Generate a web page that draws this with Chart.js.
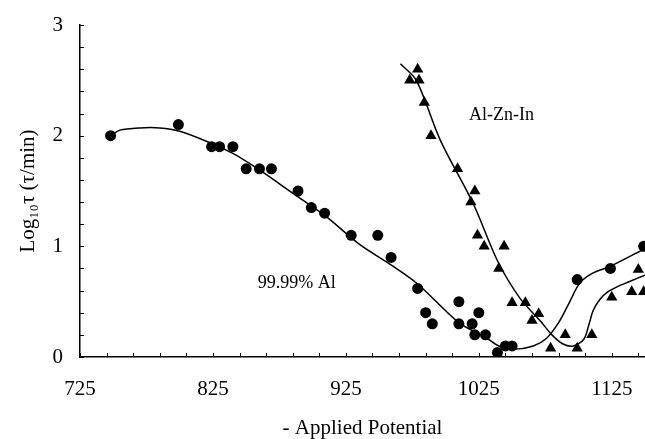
<!DOCTYPE html>
<html>
<head>
<meta charset="utf-8">
<script src="https://cdn.jsdelivr.net/npm/chart.js@4.4.0/dist/chart.umd.min.js"></script>
<style>
  html, body { margin: 0; padding: 0; background: #fff; }
  #wrap { width: 645px; height: 439px; }
</style>
</head>
<body>
<div id="wrap"><canvas id="chart"></canvas></div>
<script>
// 99.99% Al - measured points
const alX = [748, 799, 824, 830, 840, 850, 860, 869, 889, 899, 909, 929, 949, 959, 979, 985, 990, 1010, 1010, 1020, 1025, 1022, 1030, 1039, 1045, 1050, 1099, 1124, 1149];
const alY = [2.0, 2.1, 1.9, 1.9, 1.9, 1.7, 1.7, 1.7, 1.5, 1.35, 1.3, 1.1, 1.1, 0.9, 0.62, 0.4, 0.3, 0.5, 0.3, 0.3, 0.4, 0.2, 0.2, 0.04, 0.1, 0.1, 0.7, 0.8, 1.0];

// Al-Zn-In - measured points
const znX = [979, 973, 980, 984, 989, 1009, 1022, 1019, 1024, 1029, 1044, 1040, 1050, 1060, 1070, 1065, 1079, 1090, 1099, 1110, 1125, 1145, 1140, 1149];
const znY = [2.6, 2.5, 2.5, 2.3, 2.0, 1.7, 1.5, 1.4, 1.1, 1.0, 1.0, 0.8, 0.49, 0.49, 0.39, 0.33, 0.08, 0.2, 0.08, 0.2, 0.54, 0.79, 0.59, 0.59];

// fitted curves
const alFitX = [748, 755, 770, 785, 800, 820, 840, 860, 885, 910, 935, 958, 979, 1010, 1031, 1040, 1051, 1066, 1076, 1085, 1093, 1101, 1111, 1124, 1150];
const alFitY = [2.0, 2.05, 2.07, 2.07, 2.04, 1.95, 1.84, 1.69, 1.48, 1.27, 1.02, 0.84, 0.66, 0.31, 0.17, 0.1, 0.07, 0.1, 0.17, 0.31, 0.49, 0.67, 0.76, 0.82, 0.98];
const znFitX = [966, 978, 996, 1021, 1039, 1056, 1071, 1080, 1088, 1096, 1104, 1108, 1111, 1116, 1121, 1130, 1138, 1150];
const znFitY = [2.65, 2.5, 1.96, 1.38, 0.87, 0.53, 0.33, 0.2, 0.12, 0.1, 0.16, 0.3, 0.42, 0.52, 0.58, 0.64, 0.68, 0.74];

// axes
const xMajor = [725, 825, 925, 1025, 1125];
const yMajor = [0, 1, 2, 3];
const xMinorStep = 20;
const yMinorStep = 0.2;

const toPts = (xs, ys) => xs.map((x, i) => ({ x: x, y: ys[i] }));
const serif = "'Liberation Serif', 'Times New Roman', serif";

// tick lists (minor + major), labels only on majors
const xTickVals = [];
for (let v = 725; v <= 1150; v += xMinorStep) xTickVals.push(v);
const yTickVals = [];
for (let i = 0; i <= 15; i++) yTickVals.push(Math.round(i * yMinorStep * 10) / 10);

// inward tick marks + text labels
const decor = {
    id: 'decor',
    afterDraw(chart) {
        const ctx = chart.ctx;
        const xs = chart.scales.x, ys = chart.scales.y;
        const area = chart.chartArea;
        ctx.save();
        ctx.strokeStyle = '#000';
        ctx.lineWidth = 1;
        xTickVals.forEach(v => {
            const px = Math.round(xs.getPixelForValue(v)) + 0.5;
            ctx.beginPath();
            ctx.moveTo(px, area.bottom);
            ctx.lineTo(px, area.bottom - 4);
            ctx.stroke();
        });
        yTickVals.forEach(v => {
            const py = Math.round(ys.getPixelForValue(v)) + 0.5;
            ctx.beginPath();
            ctx.moveTo(area.left, py);
            ctx.lineTo(area.left + 4, py);
            ctx.stroke();
        });
        ctx.fillStyle = '#000';
        ctx.font = '18px ' + serif;
        ctx.textAlign = 'center';
        ctx.textBaseline = 'middle';
        ctx.fillText('99.99% Al', xs.getPixelForValue(888), ys.getPixelForValue(0.67));
        ctx.fillText('Al-Zn-In', xs.getPixelForValue(1042), ys.getPixelForValue(2.18));
        ctx.restore();
    }
};

const ctx = document.getElementById('chart').getContext('2d');
new Chart(ctx, {
    type: 'scatter',
    data: {
        datasets: [
            {
                label: '99.99% Al',
                data: toPts(alX, alY),
                pointStyle: 'circle',
                pointRadius: 5.5,
                backgroundColor: '#000',
                borderColor: '#000',
                borderWidth: 0
            },
            {
                label: 'Al-Zn-In',
                data: toPts(znX, znY),
                pointStyle: 'triangle',
                pointRadius: 6.5,
                backgroundColor: '#000',
                borderColor: '#000',
                borderWidth: 0
            },
            {
                label: 'fit Al',
                data: toPts(alFitX, alFitY),
                showLine: true,
                pointRadius: 0,
                borderColor: '#000',
                borderWidth: 1.5,
                tension: 0.3
            },
            {
                label: 'fit Zn',
                data: toPts(znFitX, znFitY),
                showLine: true,
                pointRadius: 0,
                borderColor: '#000',
                borderWidth: 1.5,
                tension: 0.3
            }
        ]
    },
    options: {
        responsive: true,
        maintainAspectRatio: false,
        animation: false,
        layout: { autoPadding: false, padding: { top: 25, left: 8, right: 0, bottom: 0 } },
        plugins: {
            legend: { display: false },
            tooltip: { enabled: false }
        },
        scales: {
            x: {
                type: 'linear',
                min: 725,
                max: 1150,
                afterBuildTicks: scale => { scale.ticks = xTickVals.map(v => ({ value: v })); },
                afterFit: scale => { scale.height = 82; scale.paddingLeft = 0; scale.paddingRight = 0; },
                grid: { display: true, drawOnChartArea: false, drawTicks: false },
                border: { display: true, color: '#000', width: 1.5 },
                ticks: {
                    padding: 20,
                    color: '#000',
                    maxRotation: 0,
                    autoSkip: false,
                    font: { family: serif, size: 21 },
                    callback: v => xMajor.includes(v) ? String(v) : ''
                },
                title: {
                    display: true,
                    text: '- Applied Potential',
                    color: '#000',
                    font: { family: serif, size: 21 },
                    padding: { top: 0, bottom: -2 }
                }
            },
            y: {
                min: 0,
                max: 3,
                afterBuildTicks: scale => { scale.ticks = yTickVals.map(v => ({ value: v })); },
                afterFit: scale => { scale.width = 72; scale.paddingTop = 0; scale.paddingBottom = 0; },
                grid: { display: true, drawOnChartArea: false, drawTicks: false },
                border: { display: true, color: '#000', width: 1.5 },
                ticks: {
                    padding: 17,
                    color: '#000',
                    autoSkip: false,
                    font: { family: serif, size: 21 },
                    callback: v => yMajor.includes(v) ? String(v) : ''
                },
                title: {
                    display: true,
                    text: 'Log₁₀τ (τ/min)',
                    color: '#000',
                    font: { family: serif, size: 21 },
                    padding: { top: 8, bottom: 0 }
                }
            }
        }
    },
    plugins: [decor]
});
</script>
</body>
</html>
